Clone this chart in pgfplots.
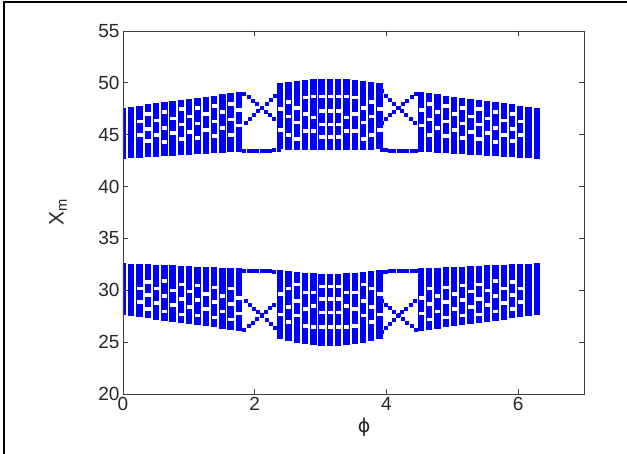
\documentclass[border=0pt]{standalone}
\usepackage{fontspec}
\setmainfont{Liberation Sans}
\newfontfamily\symfont{DejaVu Sans}
\usepackage{pgfplots}
\pgfplotsset{compat=1.18}
\usepackage{pgfplotstable}

% columns of the dense regions: lower/upper edge of each band
\pgfplotstableread{
x     ulo   uhi   llo   lhi
0.000 42.70 47.60 27.60 32.60
0.126 42.75 47.71 27.49 32.56
0.251 42.79 47.81 27.39 32.53
0.377 42.84 47.92 27.28 32.49
0.503 42.89 48.03 27.17 32.46
0.628 42.93 48.14 27.06 32.42
0.754 42.98 48.24 26.96 32.39
0.880 43.02 48.35 26.85 32.35
1.005 43.07 48.46 26.74 32.31
1.131 43.12 48.56 26.64 32.28
1.257 43.16 48.67 26.53 32.24
1.382 43.21 48.78 26.42 32.21
1.508 43.26 48.89 26.31 32.17
1.634 43.30 48.99 26.21 32.14
1.759 43.35 49.10 26.10 32.10
2.388 43.60 50.00 25.30 32.00
2.513 43.57 50.12 25.09 31.88
2.639 43.54 50.22 24.91 31.78
2.765 43.53 50.30 24.78 31.70
2.890 43.51 50.36 24.68 31.64
3.016 43.50 50.39 24.62 31.61
3.142 43.50 50.40 24.60 31.60
3.267 43.50 50.39 24.62 31.61
3.393 43.51 50.36 24.68 31.64
3.519 43.53 50.30 24.78 31.70
3.644 43.54 50.22 24.91 31.78
3.770 43.57 50.12 25.09 31.88
3.896 43.60 50.00 25.30 32.00
4.524 43.35 49.10 26.10 32.10
4.650 43.30 48.99 26.21 32.14
4.775 43.26 48.89 26.31 32.17
4.901 43.21 48.78 26.42 32.21
5.027 43.16 48.67 26.53 32.24
5.152 43.12 48.56 26.64 32.28
5.278 43.07 48.46 26.74 32.31
5.404 43.02 48.35 26.85 32.35
5.529 42.98 48.24 26.96 32.39
5.655 42.93 48.14 27.06 32.42
5.781 42.89 48.03 27.17 32.46
5.906 42.84 47.92 27.28 32.49
6.032 42.79 47.81 27.39 32.53
6.158 42.75 47.71 27.49 32.56
6.283 42.70 47.60 27.60 32.60
}\cols

% empty spots inside the dense columns (upper band, lower band)
\pgfplotstableread{
x     uy   ly
0.251 46.3 28.9
0.251 45.0 30.2
0.377 47.0 28.2
0.377 45.6 29.6
0.377 44.4 30.8
0.503 46.4 28.8
0.503 45.0 30.2
0.628 47.2 28.0
0.628 45.7 29.5
0.628 44.3 30.9
0.754 46.6 28.6
0.754 45.2 30.0
0.880 47.5 27.7
0.880 46.0 29.2
0.880 44.6 30.6
1.005 46.8 28.4
1.005 45.3 29.9
1.131 47.6 27.6
1.131 46.1 29.1
1.131 44.7 30.5
1.257 47.0 28.2
1.257 45.5 29.7
1.382 47.8 27.4
1.382 46.3 28.9
1.382 44.9 30.3
1.508 47.2 28.0
1.508 45.7 29.5
1.634 48.0 27.2
1.634 46.5 28.7
1.634 45.0 30.2
1.759 47.4 27.8
1.759 45.9 29.3
2.388 47.5 27.7
2.388 45.5 29.7
2.513 48.2 27.0
2.513 46.8 28.4
2.513 45.0 30.2
2.639 47.6 27.6
2.639 46.2 29.0
2.639 44.6 30.6
2.765 48.6 26.6
2.765 47.0 28.2
2.765 45.4 29.8
2.890 48.7 26.5
2.890 46.7 28.5
2.890 45.4 29.8
3.016 48.7 26.5
3.016 47.3 27.9
3.016 46.0 29.2
3.016 44.8 30.4
3.142 48.7 26.5
3.142 47.3 27.9
3.142 46.0 29.2
3.142 44.8 30.4
3.267 48.7 26.5
3.267 47.3 27.9
3.267 46.0 29.2
3.267 44.8 30.4
3.393 48.7 26.5
3.393 46.7 28.5
3.393 45.4 29.8
3.519 48.6 26.6
3.519 47.0 28.2
3.519 45.4 29.8
3.644 47.6 27.6
3.644 46.2 29.0
3.644 44.6 30.6
3.770 48.2 27.0
3.770 46.8 28.4
3.770 45.0 30.2
3.896 47.5 27.7
3.896 45.5 29.7
4.524 47.4 27.8
4.524 45.9 29.3
4.650 48.0 27.2
4.650 46.5 28.7
4.650 45.0 30.2
4.775 47.2 28.0
4.775 45.7 29.5
4.901 47.8 27.4
4.901 46.3 28.9
4.901 44.9 30.3
5.027 47.0 28.2
5.027 45.5 29.7
5.152 47.6 27.6
5.152 46.1 29.1
5.152 44.7 30.5
5.278 46.8 28.4
5.278 45.3 29.9
5.404 47.5 27.7
5.404 46.0 29.2
5.404 44.6 30.6
5.529 46.6 28.6
5.529 45.2 30.0
5.655 47.2 28.0
5.655 45.7 29.5
5.655 44.3 30.9
5.781 46.4 28.8
5.781 45.0 30.2
5.906 47.0 28.2
5.906 45.6 29.6
5.906 44.4 30.8
6.032 46.3 28.9
6.032 45.0 30.2
}\holes

\begin{document}
\begin{tikzpicture}
\useasboundingbox (-123pt,-60pt) rectangle (504pt,394pt);
\draw[line width=2.5pt] (-119pt,-60pt) -- (-119pt,392pt) -- (504pt,392pt);
\begin{axis}[
  scale only axis, width=461pt, height=363pt,
  xmin=0, xmax=7, ymin=20, ymax=55,
  xtick={0,2,4,6}, ytick={20,25,...,55},
  tick align=inside, major tick length=5pt,
  axis line style={black!75, line width=0.9pt},
  every tick/.style={black!75, line width=0.9pt},
  axis on top,
  /pgf/number format/assume math mode=true,
  tick label style={font=\fontsize{19}{21}\selectfont, text=black!85},
  xlabel={{\symfont ϕ}},
  xlabel style={at={(axis description cs:0.523,0)}, anchor=center, yshift=-33pt,
    font=\fontsize{19}{21}\selectfont, text=black!85},
  ylabel={X\textsubscript{m}},
  ylabel style={at={(axis description cs:-0.141,0.5)}, anchor=center,
    font=\fontsize{21}{23}\selectfont, text=black!85},
]
% dense columns
\addplot[draw=none, mark=none,
  error bars/.cd, y dir=plus, y explicit, error mark=none,
  error bar style={draw=blue, line width=6.4pt}]
  table[x=x, y=ulo, y error expr=\thisrow{uhi}-\thisrow{ulo}] {\cols};
\addplot[draw=none, mark=none,
  error bars/.cd, y dir=plus, y explicit, error mark=none,
  error bar style={draw=blue, line width=6.4pt}]
  table[x=x, y=llo, y error expr=\thisrow{lhi}-\thisrow{llo}] {\cols};
% empty spots
\addplot[white, only marks, mark=square*, mark size=2.2pt,
  mark options={white, yscale=0.6}] table[x=x, y=uy] {\holes};
\addplot[white, only marks, mark=square*, mark size=2.2pt,
  mark options={white, yscale=0.6}] table[x=x, y=ly] {\holes};
% branches in the gaps, upper band
\addplot[blue, only marks, mark=square*, mark size=1.5pt] coordinates {
(1.84,49.0)(1.905,48.65)(1.97,48.30)(2.035,47.95)(2.10,47.60)(2.165,47.25)(2.23,46.90)(2.295,46.55)(2.36,46.20)
(1.86,46.2)(1.92,46.55)(1.985,46.95)(2.05,47.3)(2.11,47.65)(2.175,48.0)(2.24,48.4)(2.30,48.8)(2.36,49.2)
(1.84,43.5)(1.905,43.5)(1.97,43.45)(2.035,43.45)(2.10,43.45)(2.165,43.5)(2.23,43.5)(2.295,43.55)(2.36,43.6)
(4.443,49.0)(4.378,48.65)(4.313,48.30)(4.248,47.95)(4.183,47.60)(4.118,47.25)(4.053,46.90)(3.988,46.55)(3.923,46.20)
(4.423,46.2)(4.363,46.55)(4.298,46.95)(4.233,47.3)(4.173,47.65)(4.108,48.0)(4.043,48.4)(3.983,48.8)(3.923,49.2)
(4.443,43.5)(4.378,43.5)(4.313,43.45)(4.248,43.45)(4.183,43.45)(4.118,43.5)(4.053,43.5)(3.988,43.55)(3.923,43.6)
};
% branches in the gaps, lower band
\addplot[blue, only marks, mark=square*, mark size=1.5pt] coordinates {
(1.84,26.2)(1.905,26.55)(1.97,26.9)(2.035,27.25)(2.10,27.6)(2.165,27.95)(2.23,28.3)(2.295,28.65)(2.36,29.0)
(1.86,29.0)(1.92,28.65)(1.985,28.25)(2.05,27.9)(2.11,27.55)(2.175,27.2)(2.24,26.8)(2.30,26.4)(2.36,26.0)
(1.84,31.85)(1.905,31.85)(1.97,31.9)(2.035,31.9)(2.10,31.9)(2.165,31.85)(2.23,31.85)(2.295,31.8)(2.36,31.8)
(4.443,26.2)(4.378,26.55)(4.313,26.9)(4.248,27.25)(4.183,27.6)(4.118,27.95)(4.053,28.3)(3.988,28.65)(3.923,29.0)
(4.423,29.0)(4.363,28.65)(4.298,28.25)(4.233,27.9)(4.173,27.55)(4.108,27.2)(4.043,26.8)(3.983,26.4)(3.923,26.0)
(4.443,31.85)(4.378,31.85)(4.313,31.9)(4.248,31.9)(4.183,31.9)(4.118,31.85)(4.053,31.85)(3.988,31.8)(3.923,31.8)
};
\end{axis}
\end{tikzpicture}
\end{document}
